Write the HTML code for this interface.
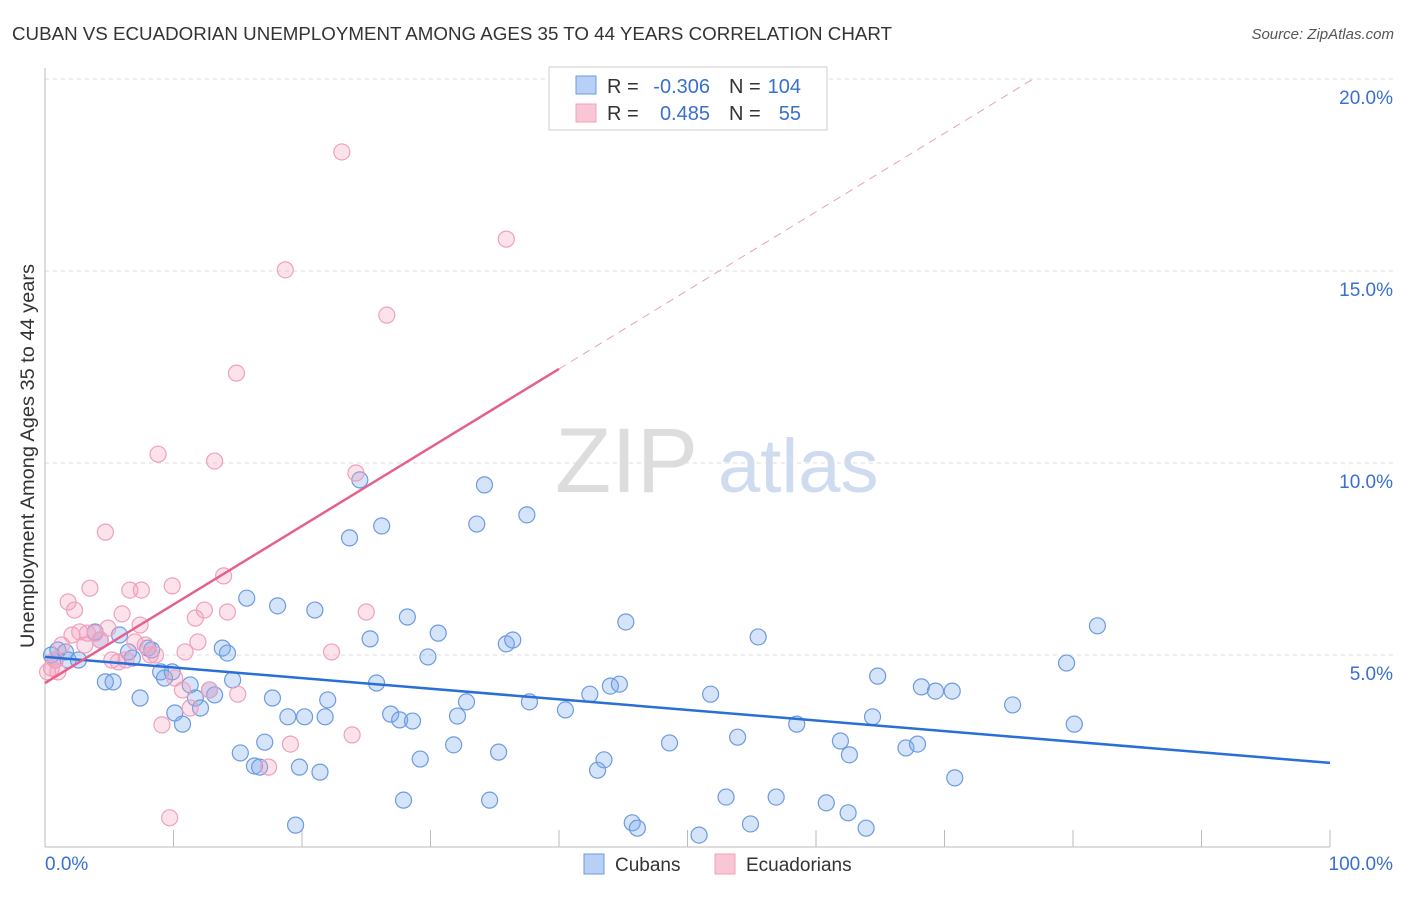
<!DOCTYPE html>
<html><head><meta charset="utf-8"><style>
body{margin:0;background:#fff;font-family:"Liberation Sans",sans-serif}
svg text{font-family:"Liberation Sans",sans-serif}
</style></head><body>
<svg id="chart" width="1406" height="892" xmlns="http://www.w3.org/2000/svg">
<text x="12" y="40" font-size="18" textLength="880" lengthAdjust="spacingAndGlyphs" fill="#333">CUBAN VS ECUADORIAN UNEMPLOYMENT AMONG AGES 35 TO 44 YEARS CORRELATION CHART</text>
<text x="1394" y="39" font-size="15" fill="#555" font-style="italic" text-anchor="end">Source: ZipAtlas.com</text>
<g><text x="555" y="492" font-size="92" fill="#ddd" font-family="Liberation Serif">ZIP</text><text x="718" y="492" font-size="76" fill="#cfdcf0">atlas</text></g>
<g id="grid"></g>
<g id="axes"></g>
<g id="marks"></g>
<g id="lines"></g>
<text x="34" y="456" font-size="19" textLength="384" lengthAdjust="spacingAndGlyphs" fill="#333" text-anchor="middle" transform="rotate(-90 34 456)">Unemployment Among Ages 35 to 44 years</text>
<g>
<rect x="549" y="67" width="278" height="63" fill="#fff" stroke="#ccc"/>
<rect x="576" y="76" width="20" height="18" fill="#b8d0f5" stroke="#6b9be0"/>
<rect x="576" y="104" width="20" height="18" fill="#f9c6d6" stroke="#f0a0bc"/>
<text x="607" y="93" font-size="20" fill="#333">R =</text>
<text x="710" y="93" font-size="20" fill="#3a6fd0" text-anchor="end">-0.306</text>
<text x="729" y="93" font-size="20" fill="#333">N =</text>
<text x="801" y="93" font-size="20" fill="#3a6fd0" text-anchor="end">104</text>
<text x="607" y="120" font-size="20" fill="#333">R =</text>
<text x="710" y="120" font-size="20" fill="#3a6fd0" text-anchor="end">0.485</text>
<text x="729" y="120" font-size="20" fill="#333">N =</text>
<text x="801" y="120" font-size="20" fill="#3a6fd0" text-anchor="end">55</text>
</g>
<g>
<rect x="584" y="854" width="20" height="20" fill="#b8d0f5" stroke="#6b9be0"/>
<text x="615" y="871" font-size="19" fill="#333">Cubans</text>
<rect x="715" y="854" width="20" height="20" fill="#f9c6d6" stroke="#f0a0bc"/>
<text x="746" y="871" font-size="19" fill="#333">Ecuadorians</text>
</g>
</svg>
<script>
const yTicks=[5,10,15,20];
const yTickLabels=["5.0%","10.0%","15.0%","20.0%"];
const xTicks=[0,10,20,30,40,50,60,70,80,90,100];
const cubanX=[0.5,0.8,1.0,1.6,1.8,2.6,3.9,4.3,4.7,5.3,5.8,6.5,6.8,7.4,8.0,8.3,9.0,9.3,9.9,10.1,10.7,11.3,11.7,12.1,12.8,13.2,13.8,14.2,14.6,15.2,15.7,16.3,16.7,17.1,17.7,18.1,18.9,19.5,19.8,20.2,21.0,21.4,21.8,22.0,23.7,24.5,25.3,25.8,26.2,26.9,27.6,27.9,28.2,28.6,29.2,29.8,30.6,31.8,32.1,32.8,33.6,34.2,34.6,35.3,35.9,36.4,37.5,37.7,40.5,42.4,43.0,43.5,44.0,44.7,45.2,45.7,46.1,48.6,50.9,51.8,53.0,53.9,54.9,55.5,56.9,58.5,60.8,61.9,62.5,62.6,63.9,64.4,64.8,67.0,67.9,68.2,69.3,70.6,70.8,75.3,79.5,80.1,81.9];
const cubanY=[5.0,4.87,5.13,5.08,4.87,4.87,5.6,5.39,4.3,4.3,5.52,5.08,4.92,3.88,5.18,5.13,4.56,4.4,4.56,3.49,3.2,4.22,3.88,3.62,4.09,3.96,5.18,5.05,4.35,2.45,6.48,2.11,2.08,2.73,3.88,6.28,3.39,0.57,2.08,3.39,6.17,1.95,3.39,3.83,8.05,9.56,5.42,4.27,8.36,3.46,3.31,1.22,5.99,3.28,2.29,4.95,5.57,2.66,3.41,3.78,8.41,9.43,1.22,2.47,5.29,5.39,8.65,3.78,3.57,3.98,2.0,2.27,4.19,4.24,5.86,0.63,0.49,2.71,0.31,3.98,1.3,2.86,0.6,5.47,1.3,3.2,1.15,2.76,0.89,2.4,0.49,3.39,4.45,2.58,2.68,4.17,4.06,4.06,1.8,3.7,4.79,3.2,5.76];
const ecuX=[0.2,0.5,0.8,1.0,1.3,1.8,2.1,2.3,2.7,3.1,3.3,3.5,3.9,4.3,4.7,4.9,5.2,5.7,6.0,6.3,6.6,7.0,7.4,7.5,7.8,8.2,8.6,8.8,9.1,9.7,9.9,10.1,10.7,10.9,11.3,11.7,11.9,12.4,12.8,13.2,13.9,14.2,14.9,15.0,17.4,18.7,19.1,22.3,23.1,23.9,24.2,25.0,26.6,35.9];
const ecuY=[4.56,4.66,4.87,4.56,5.26,6.38,5.52,6.17,5.6,5.26,5.57,6.74,5.57,5.39,8.2,5.7,4.87,4.82,6.07,4.87,6.69,5.34,5.78,6.69,5.26,5.0,5.0,10.23,3.18,0.76,6.8,4.4,4.09,5.08,3.62,5.96,5.34,6.17,4.09,10.05,7.06,6.12,12.34,3.98,2.08,15.03,2.68,5.08,18.1,2.92,9.74,6.12,13.85,15.83];
const cubanTrend=[[0,4.95],[100,2.19]];
const ecuTrendSolid=[[0,4.27],[40,12.45]];
const ecuTrendDash=[[40,12.45],[76.9,20]];
const NS="http://www.w3.org/2000/svg";
const X=v=>45+v*12.85, Y=v=>847-v*38.4;
function mk(t,a,p){const e=document.createElementNS(NS,t);for(const k in a)e.setAttribute(k,a[k]);p.appendChild(e);return e;}
const grid=document.getElementById('grid'),axes=document.getElementById('axes'),marks=document.getElementById('marks'),lines=document.getElementById('lines');
yTicks.forEach((v,i)=>{const l=mk('line',{x1:45,x2:1394,y1:Y(v),y2:Y(v),stroke:'#ddd','stroke-dasharray':'4 4'},grid);


const t=mk('text',{x:1393,y:Y(v)+25,'font-size':19,fill:'#3a6fd0','text-anchor':'end'},axes);t.textContent=yTickLabels[i];

});
mk('line',{x1:45,x2:45,y1:68,y2:847,stroke:'#bbb'},axes);
mk('line',{x1:45,x2:1330,y1:847,y2:847,stroke:'#bbb'},axes);
xTicks.forEach(v=>{const t=mk('line',{x1:X(v),x2:X(v),y1:830,y2:847,stroke:'#bbb'},axes);

});
let t0=mk('text',{x:45,y:870,'font-size':19,fill:'#3a6fd0'},axes);t0.textContent='0.0%';


let t1=mk('text',{x:1393,y:870,'font-size':19,fill:'#3a6fd0','text-anchor':'end'},axes);t1.textContent='100.0%';


cubanX.forEach((v,i)=>{const c=mk('circle',{cx:X(v),cy:Y(cubanY[i]),r:8,fill:'rgba(120,165,235,0.3)',stroke:'#6b9be0','stroke-width':1.2},marks);

});
ecuX.forEach((v,i)=>{const c=mk('circle',{cx:X(v),cy:Y(ecuY[i]),r:8,fill:'rgba(245,160,190,0.3)',stroke:'#f0a0bc','stroke-width':1.2},marks);

});
function ln(p,st,dash,name){const l=mk('line',{x1:X(p[0][0]),y1:Y(p[0][1]),x2:X(p[1][0]),y2:Y(p[1][1]),stroke:st,'stroke-width':dash?1:2.5},lines);if(dash)l.setAttribute('stroke-dasharray','8 6');

}
ln(cubanTrend,'#2a6fd6',false,'cuban-trend-line');
ln(ecuTrendSolid,'#e4608e',false,'ecuadorian-trend-line');
ln(ecuTrendDash,'#eaa0b8',true,'ecuadorian-trend-extension');
</script>
</body></html>
